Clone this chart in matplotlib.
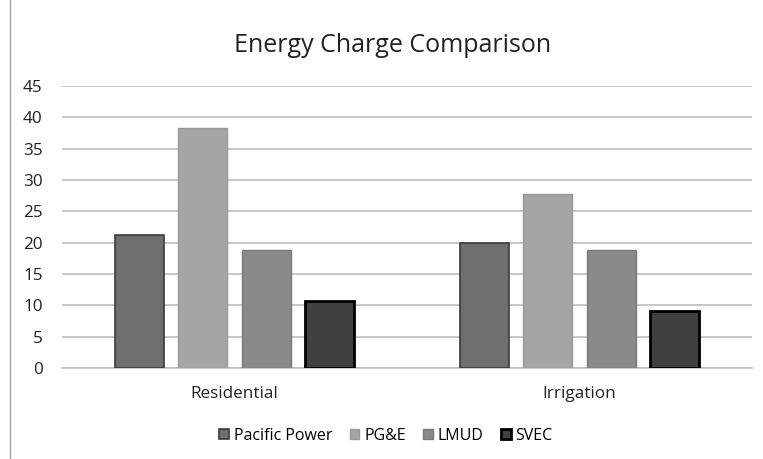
import numpy as np
import matplotlib.pyplot as plt

plt.rcParams['font.family'] = ['Open Sans', 'DejaVu Sans']

categories = ['Residential', 'Irrigation']
series = ['Pacific Power', 'PG&E', 'LMUD', 'SVEC']
values = {
    'Pacific Power': [21.2, 19.9],
    'PG&E': [38.3, 27.7],
    'LMUD': [18.8, 18.8],
    'SVEC': [10.7, 9.1],
}
yticks = [0, 5, 10, 15, 20, 25, 30, 35, 40, 45]

colors = ['#6f6f6f', '#a5a5a5', '#8a8a8a', '#404040']
edges = ['#3a3a3a', '#9a9a9a', '#7a7a7a', '#000000']
lws = [1.2, 1.0, 1.0, 2.0]

fig = plt.figure(figsize=(7.63, 4.59), dpi=100)
ax = fig.add_axes([62 / 763, 1 - 368 / 459, 690 / 763, (368 - 86) / 459])

x = np.arange(len(categories))
width = 0.142
step = 0.183
for i, s in enumerate(series):
    ax.bar(x + (i - 1.5) * step, values[s], width, color=colors[i],
           edgecolor=edges[i], linewidth=lws[i], label=s, zorder=3)

ax.set_xlim(-0.5, 1.5)
ax.set_ylim(0, 45)
ax.set_yticks(yticks)
ax.set_xticks(x)
ax.set_xticklabels(categories)
ax.yaxis.grid(True, color='#bdbdbd', linewidth=1.2, zorder=0)
for sp in ['top', 'right', 'left']:
    ax.spines[sp].set_visible(False)
ax.spines['bottom'].set_color('#bdbdbd')
ax.spines['bottom'].set_linewidth(1.2)
ax.tick_params(length=0, labelsize=12.3, colors='#222222')
ax.tick_params(axis='x', pad=13)
ax.tick_params(axis='y', pad=14)

fig.text(393 / 763, 1 - 45 / 459, 'Energy Charge Comparison', ha='center', va='center',
         fontsize=18, color='#222222')
fig.legend(loc='center', bbox_to_anchor=(386 / 763, 1 - 436 / 459), ncol=4, frameon=False,
           fontsize=11.5, handlelength=0.6, handleheight=0.6, handletextpad=0.3,
           columnspacing=1.1)

# partial frame on left like the cropped screenshot
fig.add_artist(plt.Line2D([10 / 763, 10 / 763], [0, 1], color='#a0a0a0', linewidth=1))

fig.savefig('out.png', dpi=100)
